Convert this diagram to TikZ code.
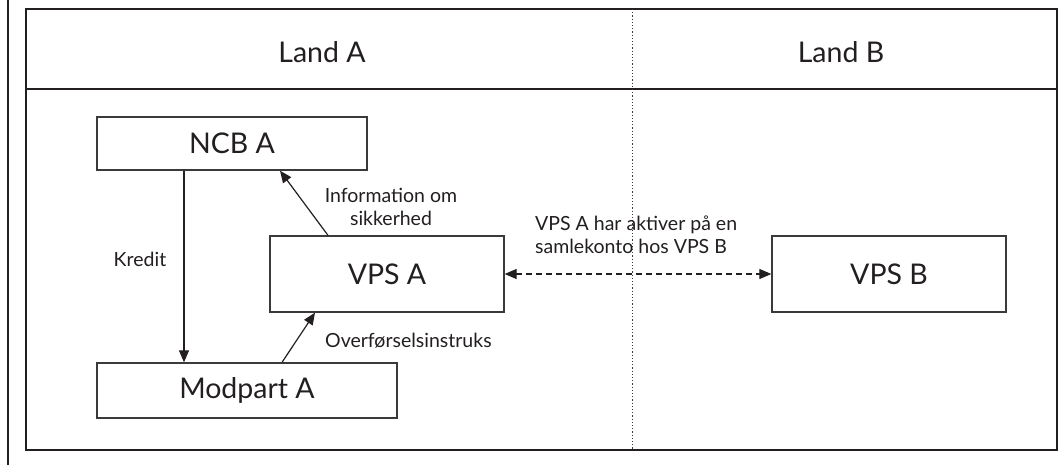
\documentclass[tikz,border=0pt]{standalone}
\usepackage{fontspec}
\setmainfont{Lato}
\usetikzlibrary{arrows.meta}
\definecolor{ink}{HTML}{231F20}
\definecolor{linec}{HTML}{3A3A3A}
\begin{document}
\begin{tikzpicture}[x=1pt,y=-1pt,
  frame/.style={draw=ink,line width=1.8pt},
  box/.style={draw=linec,line width=1.3pt,fill=white,inner sep=0pt,text=ink,
    font=\fontsize{28.5}{32}\selectfont},
  lbl/.style={inner sep=0pt,text=ink,font=\fontsize{19.5}{22.5}\selectfont},
  head/.style={inner sep=0pt,text=ink,font=\fontsize{28.5}{32}\selectfont},
  arr/.style={draw=ink,line width=1.2pt,-{Triangle[length=12pt,width=10pt]}},
  darr/.style={draw=ink,line width=1.2pt,dash pattern=on 6pt off 4pt,
    {Triangle[length=12pt,width=10pt]}-{Triangle[length=12pt,width=10pt]}}]
\useasboundingbox (0,0) rectangle (1058,466);
\fill[white] (0,0) rectangle (1058,466);
% left margin line
\draw[ink,line width=1.3pt] (8,0) -- (8,465);
% outer frame
\draw[frame] (26,9) rectangle (1057,450);
\draw[frame] (26,88.7) -- (1057,88.7);
\draw[linec,line width=1pt,dash pattern=on 1.2pt off 2pt] (632,9) -- (632,450);
% headers
\node[head] (landA) at (322,52) {Land A};
\node[head] (landB) at (841,52) {Land B};
% boxes
\node[box,minimum width=270pt,minimum height=53pt] (ncb) at (232,143.5) {NCB A};
\node[box,minimum width=300pt,minimum height=55pt] (mod) at (247,390.5) {Modpart A};
\node[box,minimum width=234pt,minimum height=76pt] (vpsa) at (387,274) {VPS A};
\node[box,minimum width=234pt,minimum height=76pt] (vpsb) at (889,274) {VPS B};
% connectors
\coordinate (k1) at (184,0);
\draw[arr] (ncb.south -| k1) -- (mod.north -| k1);
\coordinate (i1) at (328,0);
\coordinate (i2) at (280,0);
\draw[arr] (vpsa.north -| i1) -- (ncb.south -| i2);
\coordinate (o1) at (282,0);
\coordinate (o2) at (315,0);
\draw[arr] (mod.north -| o1) -- (vpsa.south -| o2);
\draw[darr] (vpsa.east) -- (vpsb.west);
% labels
\node[lbl] (kredit) at (140,259) {Kredit};
\node[lbl,align=center] (info) at (391,207) {Information om\\sikkerhed};
\node[lbl,align=left,anchor=west] (samle) at (535,235) {VPS A har aktiver på en\\samlekonto hos VPS B};
\node[lbl,anchor=west] (overf) at (325,341) {Overførselsinstruks};
\end{tikzpicture}
\end{document}
